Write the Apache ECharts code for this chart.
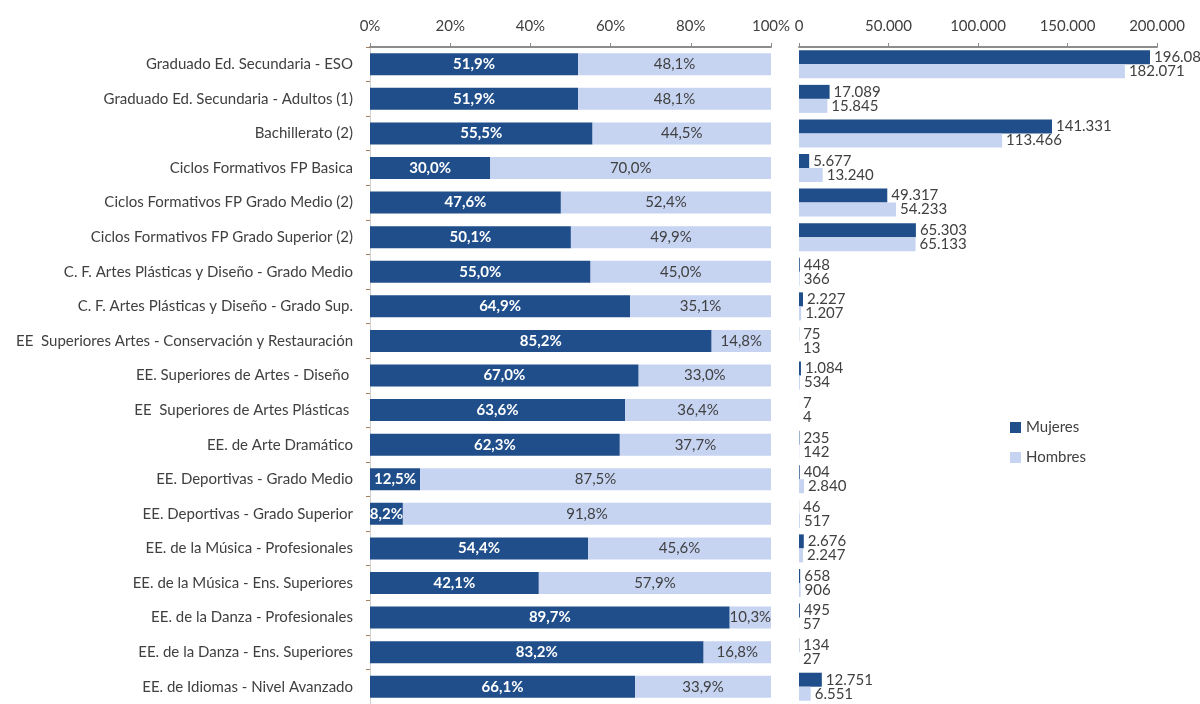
<!DOCTYPE html>
<html>
<head>
<meta charset="utf-8">
<script src="https://cdn.jsdelivr.net/npm/echarts@6/dist/echarts.min.js"></script>
<style>
	html, body { margin: 0; padding: 0; background: #fff; }
	#chart { width: 1200px; height: 704px; }
</style>
</head>
<body>
<div id="chart"></div>
<script>
// categorias
var categories = [
	'Graduado Ed. Secundaria - ESO',
	'Graduado Ed. Secundaria - Adultos (1)',
	'Bachillerato (2)',
	'Ciclos Formativos FP Basica',
	'Ciclos Formativos FP Grado Medio (2)',
	'Ciclos Formativos FP Grado Superior (2)',
	'C. F. Artes Plásticas y Diseño - Grado Medio',
	'C. F. Artes Plásticas y Diseño - Grado Sup.',
	'EE  Superiores Artes - Conservación y Restauración',
	'EE. Superiores de Artes - Diseño ',
	'EE  Superiores de Artes Plásticas ',
	'EE. de Arte Dramático',
	'EE. Deportivas - Grado Medio',
	'EE. Deportivas - Grado Superior',
	'EE. de la Música - Profesionales',
	'EE. de la Música - Ens. Superiores',
	'EE. de la Danza - Profesionales',
	'EE. de la Danza - Ens. Superiores',
	'EE. de Idiomas - Nivel Avanzado'
];

// porcentajes
var pctMujeres = [51.9, 51.9, 55.5, 30.0, 47.6, 50.1, 55.0, 64.9, 85.2, 67.0, 63.6, 62.3, 12.5, 8.2, 54.4, 42.1, 89.7, 83.2, 66.1];
var pctHombres = [48.1, 48.1, 44.5, 70.0, 52.4, 49.9, 45.0, 35.1, 14.8, 33.0, 36.4, 37.7, 87.5, 91.8, 45.6, 57.9, 10.3, 16.8, 33.9];

// alumnos
var numMujeres = [196081, 17089, 141331, 5677, 49317, 65303, 448, 2227, 75, 1084, 7, 235, 404, 46, 2676, 658, 495, 134, 12751];
var numHombres = [182071, 15845, 113466, 13240, 54233, 65133, 366, 1207, 13, 534, 4, 142, 2840, 517, 2247, 906, 57, 27, 6551];

var colorDark = '#1f4e8a';
var colorLight = '#c6d4f2';
var textColor = '#404040';
var fontFamily = 'Lato, "Liberation Sans", sans-serif';
var fontSize = 15;

var fmtPct = function (v) {
	return v.toFixed(1).replace('.', ',') + '%';
};
var fmtNum = function (v) {
	return String(v).replace(/\B(?=(\d{3})+(?!\d))/g, '.');
};

var chart = echarts.init(document.getElementById('chart'));

var axisTop = function (gridIndex, max, interval, formatter) {
	return {
		type: 'value',
		gridIndex: gridIndex,
		position: 'top',
		min: 0,
		max: max,
		interval: interval,
		axisLine: { show: true, lineStyle: { color: '#8c8c8c', width: 2 } },
		axisTick: { show: true, length: 4, lineStyle: { color: '#8c8c8c' } },
		splitLine: { show: false },
		axisLabel: { color: textColor, fontSize: fontSize, fontFamily: fontFamily, margin: 13, formatter: formatter }
	};
};

var option = {
	animation: false,
	textStyle: { fontFamily: fontFamily },
	legend: {
		orient: 'vertical',
		left: 1005,
		top: 415,
		itemWidth: 11,
		itemHeight: 11,
		itemGap: 15,
		icon: 'rect',
		textStyle: { color: textColor, fontSize: fontSize, fontFamily: fontFamily },
		data: ['Mujeres', 'Hombres']
	},
	grid: [
		{ left: 370, width: 401, top: 47, height: 663 },
		{ left: 799, width: 358, top: 47, height: 663 }
	],
	xAxis: [
		axisTop(0, 100, 20, function (v) { return v + '%'; }),
		axisTop(1, 200000, 50000, function (v) { return fmtNum(v); })
	],
	yAxis: [
		{
			type: 'category',
			gridIndex: 0,
			inverse: true,
			data: categories,
			axisLine: { show: true, lineStyle: { color: '#d0d0d0' } },
			axisTick: { show: true, length: 4, lineStyle: { color: '#a08060' } },
			axisLabel: { color: textColor, fontSize: fontSize, fontFamily: fontFamily, margin: 17 }
		},
		{
			type: 'category',
			gridIndex: 1,
			inverse: true,
			data: categories,
			axisLine: { show: false },
			axisTick: { show: false },
			axisLabel: { show: false }
		}
	],
	series: [
		{
			name: 'Mujeres',
			type: 'bar',
			stack: 'pct',
			xAxisIndex: 0,
			yAxisIndex: 0,
			barWidth: 22,
			itemStyle: { color: colorDark },
			label: {
				show: true,
				position: 'inside',
				color: '#fff',
				fontSize: fontSize,
				fontWeight: 'bold',
				formatter: function (p) { return fmtPct(p.value); }
			},
			data: pctMujeres
		},
		{
			name: 'Hombres',
			type: 'bar',
			stack: 'pct',
			xAxisIndex: 0,
			yAxisIndex: 0,
			barWidth: 22,
			itemStyle: { color: colorLight },
			label: {
				show: true,
				position: 'inside',
				color: textColor,
				fontSize: fontSize,
				formatter: function (p) { return fmtPct(p.value); }
			},
			data: pctHombres
		},
		{
			name: 'Mujeres',
			type: 'bar',
			xAxisIndex: 1,
			yAxisIndex: 1,
			barWidth: 14,
			barGap: '0%',
			itemStyle: { color: colorDark },
			label: {
				show: true,
				position: 'right',
				distance: 4,
				color: textColor,
				fontSize: fontSize,
				lineHeight: 15,
				formatter: function (p) { return fmtNum(p.value); }
			},
			data: numMujeres
		},
		{
			name: 'Hombres',
			type: 'bar',
			xAxisIndex: 1,
			yAxisIndex: 1,
			barWidth: 14,
			barGap: '0%',
			itemStyle: { color: colorLight },
			label: {
				show: true,
				position: 'right',
				distance: 4,
				color: textColor,
				fontSize: fontSize,
				lineHeight: 15,
				formatter: function (p) { return fmtNum(p.value); }
			},
			data: numHombres
		}
	]
};

chart.setOption(option);
</script>
</body>
</html>
